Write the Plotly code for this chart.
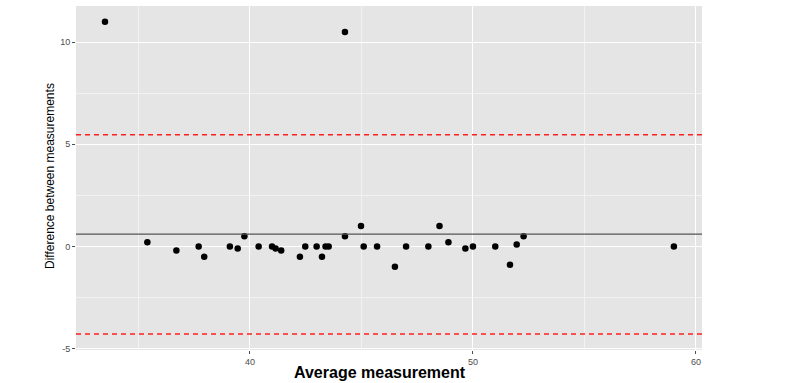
import plotly.graph_objects as go

avg_x = [33.5, 35.4, 36.7, 37.7, 37.95, 39.1, 39.45, 39.75, 40.39, 40.99, 41.15, 41.4,
         42.24, 42.48, 42.99, 43.23, 43.39, 43.53, 44.26, 44.26, 44.98, 45.1, 45.7, 46.5,
         47.0, 48.0, 48.5, 48.9, 49.66, 50.0, 51.0, 51.66, 51.96, 52.27, 59.01]
diff_y = [11.0, 0.2, -0.2, 0.0, -0.5, 0.0, -0.1, 0.5, 0.0, 0.0, -0.1, -0.2,
          -0.5, 0.0, 0.0, -0.5, 0.0, 0.0, 10.5, 0.5, 1.0, 0.0, 0.0, -1.0,
          0.0, 0.0, 1.0, 0.2, -0.1, 0.0, 0.0, -0.9, 0.1, 0.5, 0.0]
mean_diff = 0.6
upper_loa = 5.47
lower_loa = -4.29

x_ticks = [40, 50, 60]
y_ticks = [-5, 0, 5, 10]

x_range = [32.2, 60.27]
y_range = [-5.07, 11.77]

fig = go.Figure()

fig.add_trace(go.Scatter(x=avg_x, y=diff_y, mode="markers",
                         marker=dict(color="black", size=6.5, line=dict(width=0)),
                         showlegend=False, hoverinfo="skip"))

for val, col, dash, w in [(mean_diff, "#555555", "solid", 1.2),
                          (upper_loa, "#ff2020", "5px,4px", 1.5),
                          (lower_loa, "#ff2020", "5px,4px", 1.5)]:
    fig.add_trace(go.Scatter(x=x_range, y=[val, val], mode="lines",
                             line=dict(color=col, width=w, dash=dash),
                             showlegend=False, hoverinfo="skip"))

L, R, T, B = 76, 98, 6, 33
plot_w = 800 - L - R
plot_h = 383 - T - B

fig.update_layout(
    width=800, height=383,
    margin=dict(l=L, r=R, t=T, b=B),
    paper_bgcolor="white",
    plot_bgcolor="#e5e5e5",
    font=dict(family="Liberation Sans, Arial, sans-serif"),
    xaxis=dict(range=x_range, tickvals=x_ticks, ticktext=[str(v) for v in x_ticks],
               showgrid=True, gridcolor="white", gridwidth=1.2, zeroline=False,
               ticks="outside", ticklen=3, tickcolor="#4d4d4d", tickwidth=1,
               tickfont=dict(size=9, color="#4d4d4d"),
               minor=dict(tickvals=[35, 45, 55], showgrid=True, gridcolor="#f2f2f2",
                          gridwidth=0.6, ticks=""),
               showline=False),
    yaxis=dict(range=y_range, tickvals=y_ticks, ticktext=[str(v) for v in y_ticks],
               showgrid=True, gridcolor="white", gridwidth=1.2, zeroline=False,
               ticks="outside", ticklen=3, tickcolor="#4d4d4d", tickwidth=1,
               tickfont=dict(size=9, color="#4d4d4d"),
               minor=dict(tickvals=[-2.5, 2.5, 7.5], showgrid=True, gridcolor="#f2f2f2",
                          gridwidth=0.6, ticks=""),
               showline=False),
    annotations=[
        dict(text="<b>Average measurement</b>", x=(380 - L) / plot_w, y=(383 - B - 373) / plot_h,
             xref="paper", yref="paper", showarrow=False,
             font=dict(size=16, color="black"), xanchor="center", yanchor="middle"),
        dict(text="Difference between measurements", x=(50 - L) / plot_w, y=(383 - B - 176) / plot_h,
             xref="paper", yref="paper", showarrow=False, textangle=-90,
             font=dict(size=12, color="black"), xanchor="center", yanchor="middle"),
    ],
)

fig.write_html("out.html", config={"displayModeBar": False},
               post_script="document.body.style.margin='0px';")
